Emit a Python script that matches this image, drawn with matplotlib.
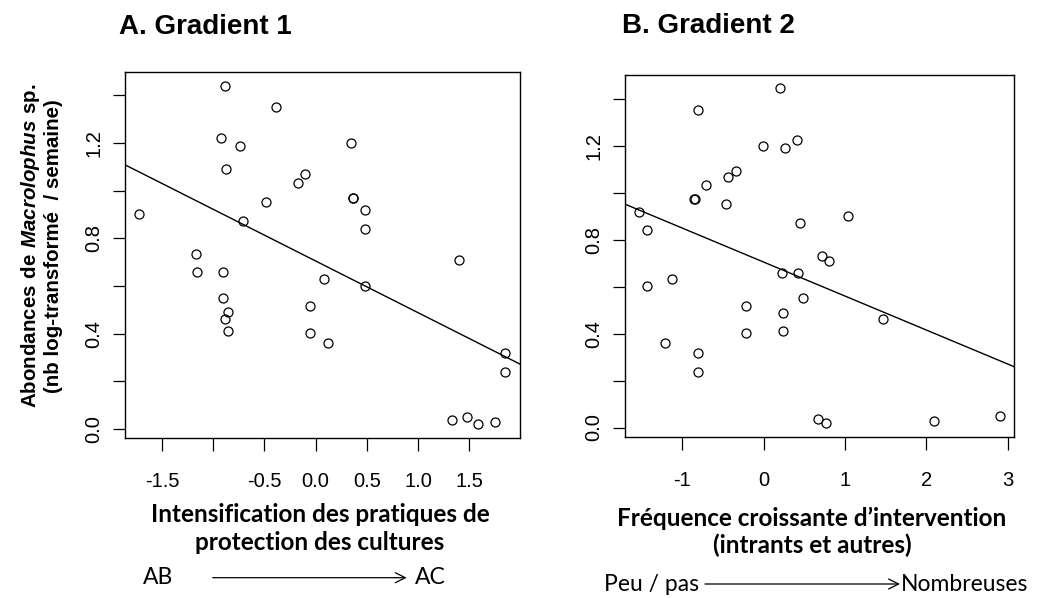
import numpy as np
import matplotlib
matplotlib.use("Agg")
import matplotlib.pyplot as plt

plt.rcParams['font.family'] = ['Liberation Sans', 'DejaVu Sans']
plt.rcParams['mathtext.fontset'] = 'custom'
plt.rcParams['mathtext.bf'] = 'Liberation Sans:bold'
plt.rcParams['mathtext.bfit'] = 'Liberation Sans:italic:bold'

# Gradient 1 (intensification des pratiques de protection)
grad1_x = [-0.883, -0.39, -0.922, -0.737, -0.870, 0.341, -0.107, -0.169, 0.360, 0.366,
           -0.484, 0.48, -1.72, -0.708, 0.48, -1.172, -1.153, -0.900, 1.398, 0.081,
           0.48, -0.900, -0.851, -0.883, -0.851, -0.053, -0.053, 0.120, 1.850, 1.850,
           1.330, 1.480, 1.580, 1.749]
grad1_y = [1.441, 1.353, 1.221, 1.188, 1.091, 1.198, 1.068, 1.030, 0.970, 0.971,
           0.952, 0.918, 0.900, 0.872, 0.840, 0.732, 0.658, 0.658, 0.709, 0.629,
           0.601, 0.551, 0.490, 0.461, 0.411, 0.517, 0.401, 0.359, 0.317, 0.238,
           0.038, 0.052, 0.020, 0.029]
grad1_fit = (0.7046, -0.2171)   # intercept, slope

# Gradient 2 (frequence d'intervention)
grad2_x = [0.201, -0.811, -0.012, 0.258, 0.414, -0.335, -0.438, -0.708, -0.851, -0.846,
           -0.462, -1.527, -1.437, 0.447, 1.041, 0.721, 0.799, 0.221, 0.426, -1.437,
           -1.130, 0.484, -0.213, 0.234, -0.213, 0.234, 1.467, -1.216, -0.811, -0.811,
           0.672, 0.762, 2.097, 2.904]
grad2_y = [1.445, 1.355, 1.201, 1.190, 1.224, 1.093, 1.069, 1.032, 0.973, 0.974,
           0.953, 0.919, 0.840, 0.873, 0.901, 0.732, 0.709, 0.658, 0.658, 0.603,
           0.631, 0.550, 0.518, 0.490, 0.401, 0.411, 0.462, 0.360, 0.317, 0.237,
           0.037, 0.018, 0.028, 0.051]
grad2_fit = (0.705, -0.1448)

yticks = [0.0, 0.2, 0.4, 0.6, 0.8, 1.0, 1.2, 1.4]
ytick_labels = ['0.0', '', '0.4', '', '0.8', '', '1.2', '']
x1_ticks = [-1.5, -1.0, -0.5, 0.0, 0.5, 1.0, 1.5]
x1_labels = ['-1.5', '', '-0.5', '0.0', '0.5', '1.0', '1.5']
x2_ticks = [-1, 0, 1, 2, 3]
x2_labels = ['-1', '0', '1', '2', '3']

W, H = 1042, 598
fig = plt.figure(figsize=(W / 100, H / 100), dpi=100)


def r_lim(v):
    lo, hi = min(v), max(v)
    d = (hi - lo) * 0.04
    return lo - d, hi + d


def panel(rect, xs, ys, fit, xticks, xlabels):
    ax = fig.add_axes(rect)
    ax.plot(xs, ys, 'o', mfc='none', mec='black', ms=6.5, mew=0.9)
    xlim = r_lim(xs)
    ax.set_xlim(xlim)
    ax.set_ylim(r_lim(ys))
    lx = np.array(xlim)
    ax.plot(lx, fit[0] + fit[1] * lx, color='black', lw=1.0)
    ax.set_xticks(xticks)
    ax.set_xticklabels(xlabels)
    ax.set_yticks(yticks)
    ax.set_yticklabels(ytick_labels, rotation=90, va='center')
    ax.tick_params(axis='x', length=9.5, width=0.9, pad=15.5, labelsize=14.5)
    ax.tick_params(axis='y', length=8.5, width=0.9, pad=7, labelsize=14.5)
    for s in ax.spines.values():
        s.set_linewidth(1.0)
    return ax


panel([124.7 / W, 1 - 437.7 / H, 395.3 / W, 365.7 / H],
      grad1_x, grad1_y, grad1_fit, x1_ticks, x1_labels)
panel([625 / W, 1 - 436.7 / H, 389.3 / W, 361.7 / H],
      grad2_x, grad2_y, grad2_fit, x2_ticks, x2_labels)

# titres
fig.text(119 / W, 1 - 34.3 / H, "A. Gradient 1", fontsize=20, fontweight='bold',
         ha='left', va='baseline')
fig.text(622 / W, 1 - 33.3 / H, "B. Gradient 2", fontsize=20, fontweight='bold',
         ha='left', va='baseline')

# axe y
fig.text(41 / W, 1 - 246 / H,
         "$\\mathbf{Abondances\\ de\\ }\\mathbfit{Macrolophus}\\mathbf{\\ sp.}$\n"
         "(nb log-transformé  / semaine)",
         rotation=90, ha='center', va='center', multialignment='center',
         fontsize=14.8, fontweight='bold', linespacing=1.15)

# axes x
lab = dict(family=['Lato', 'DejaVu Sans'], fontweight='bold', fontsize=17.5,
           ha='center', va='baseline')
fig.text(320 / W, 1 - 522 / H, "Intensification des pratiques de", **lab)
fig.text(320 / W, 1 - 550 / H, "protection des cultures", **lab)
fig.text(812 / W, 1 - 526 / H, "Fréquence croissante d’intervention", **lab)
fig.text(812 / W, 1 - 553 / H, "(intrants et autres)", **lab)

# fleches
small = dict(family=['Lato', 'DejaVu Sans'], fontsize=16.5, va='baseline')
fig.text(143 / W, 1 - 584 / H, "AB", ha='left', **small)
fig.text(415 / W, 1 - 584 / H, "AC", ha='left', **small)
fig.text(604 / W, 1 - 591 / H, "Peu / pas", ha='left', **small)
fig.text(901 / W, 1 - 591 / H, "Nombreuses", ha='left', **small)
arrow = dict(arrowstyle='->', lw=0.9, color='black', mutation_scale=18,
             shrinkA=0, shrinkB=0)
fig.add_artist(matplotlib.patches.FancyArrowPatch(
    (212.7 / W, 1 - 577.7 / H), (406.7 / W, 1 - 577.7 / H),
    transform=fig.transFigure, **arrow))
fig.add_artist(matplotlib.patches.FancyArrowPatch(
    (705 / W, 1 - 584 / H), (900 / W, 1 - 584 / H),
    transform=fig.transFigure, **arrow))

fig.savefig("out.png", dpi=100)
